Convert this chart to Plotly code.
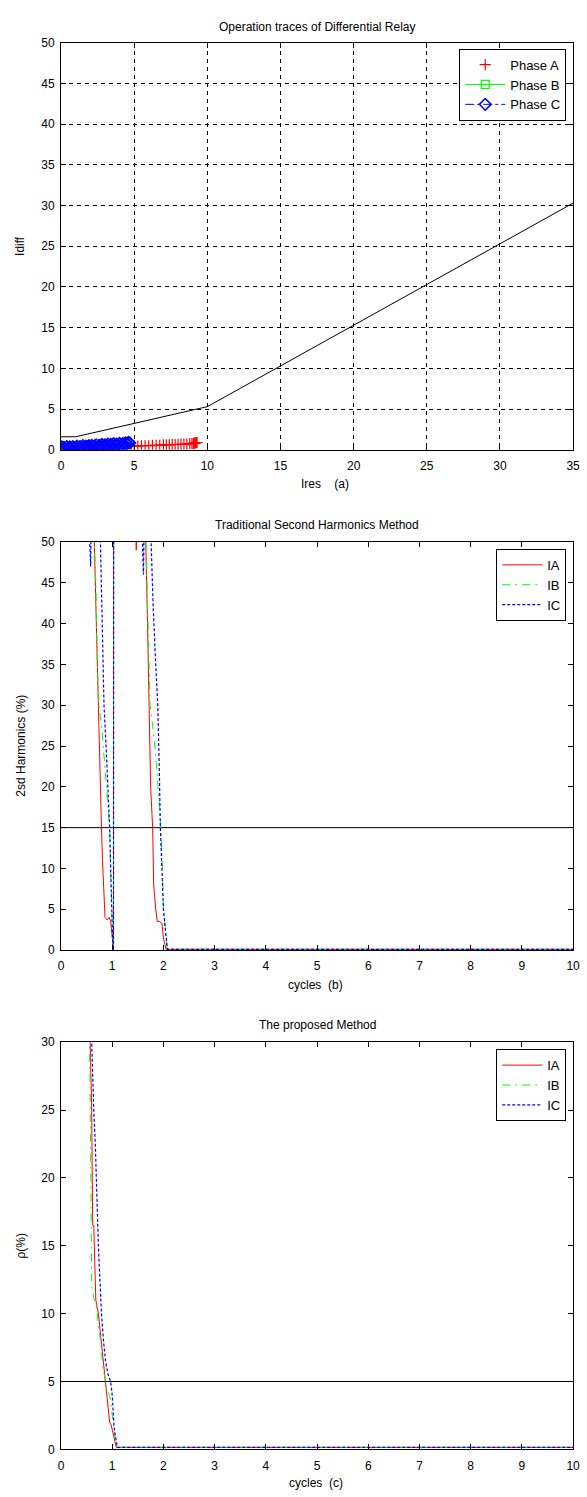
import plotly.graph_objects as go

W, H = 587, 1497

# ---------------- (a) Operation traces ----------------
char_ires = [0, 1, 10, 35]
char_idiff = [1.6, 1.6, 5.3, 30.3]

phase_a_ires = [0.05, 0.3, 0.6, 0.9, 1.2, 1.5, 1.8, 2.1, 2.4, 2.7,
                3.0, 3.3, 3.6, 3.9, 4.2, 4.5, 4.8, 5.0, 5.25, 5.5,
                5.75, 6.0, 6.25, 6.5, 6.75, 7.0, 7.2, 7.4, 7.6, 7.8,
                8.0, 8.2, 8.4, 8.6, 8.8, 8.95, 9.05, 9.1, 9.15, 9.2,
                9.25, 9.3]
phase_a_idiff = [0.0, 0.05, 0.1, 0.1, 0.15, 0.15, 0.2, 0.2, 0.25, 0.25,
                 0.3, 0.3, 0.35, 0.35, 0.4, 0.4, 0.45, 0.45, 0.45, 0.5,
                 0.5, 0.5, 0.55, 0.55, 0.55, 0.6, 0.6, 0.6, 0.65, 0.65,
                 0.65, 0.7, 0.7, 0.7, 0.75, 0.75, 0.8, 0.8, 0.85, 0.85,
                 0.9, 0.9]

phase_b_ires = [0.00, 0.10, 0.25, 0.40, 0.60, 0.80, 1.00, 1.20, 1.40, 1.60,
                1.80, 2.00, 2.20, 2.40, 2.60, 2.80, 3.00, 3.20, 3.40, 3.60,
                3.80, 4.00, 4.20, 4.40, 4.50]
phase_b_idiff = [0.10, 0.00, 0.30, 0.15, 0.35, 0.20, 0.40, 0.25, 0.45, 0.30,
                 0.50, 0.35, 0.45, 0.40, 0.55, 0.45, 0.60, 0.50, 0.65, 0.55,
                 0.70, 0.60, 0.75, 0.80, 0.85]

phase_c_ires = [0.00, 0.05, 0.10, 0.20, 0.30, 0.40, 0.50, 0.60, 0.70, 0.80,
                0.90, 1.00, 1.10, 1.20, 1.30, 1.40, 1.50, 1.60, 1.70, 1.80,
                1.90, 2.00, 2.10, 2.20, 2.30, 2.40, 2.50, 2.60, 2.70, 2.80,
                2.90, 3.00, 3.10, 3.20, 3.30, 3.40, 3.50, 3.60, 3.70, 3.80,
                3.90, 4.00, 4.10, 4.20, 4.30, 4.40, 4.50, 4.60, 4.70]
phase_c_idiff = [0.05, 0.35, 0.10, 0.30, 0.15, 0.40, 0.20, 0.35, 0.15, 0.40,
                 0.25, 0.30, 0.45, 0.20, 0.40, 0.30, 0.50, 0.25, 0.45, 0.35,
                 0.50, 0.30, 0.55, 0.40, 0.45, 0.60, 0.35, 0.55, 0.45, 0.65,
                 0.40, 0.60, 0.50, 0.70, 0.45, 0.65, 0.55, 0.75, 0.50, 0.70,
                 0.60, 0.80, 0.55, 0.75, 0.70, 0.85, 0.75, 0.90, 0.85]

# ---------------- (b) Traditional second harmonics ----------------
b_threshold = 15
b_ia_t = [0, 0.60, 0.65, 0.68, 0.71, 0.73, 0.76, 0.79, 0.81, 0.84,
          0.86, 0.90, 0.94, 0.97, 0.99, 1.01, 1.025, 1.03, 1.45, 1.47,
          1.49, 1.62, 1.66, 1.69, 1.72, 1.75, 1.79, 1.81, 1.85, 1.88,
          1.92, 1.97, 2.00, 2.05, 10]
b_ia_v = [90, 70, 50, 42, 35, 30, 20, 15, 11, 7,
          4, 3.7, 4.0, 3.5, 2.0, 0.3, 0.1, 95, 55, 49,
          55, 60, 50, 40, 30, 20, 15, 8, 5, 3.5,
          3.5, 3.3, 1.5, 0.1, 0.1]
b_ib_t = [0, 0.60, 0.65, 0.68, 0.71, 0.74, 0.80, 0.86, 0.92, 0.95,
          0.97, 0.99, 1.00, 1.015, 1.025, 1.03, 1.60, 1.66, 1.70, 1.74,
          1.80, 1.86, 1.92, 1.95, 1.98, 2.00, 2.03, 2.07, 10]
b_ib_v = [90, 65, 50, 45, 35, 30, 27, 22, 18, 15,
          10, 5, 3, 0.3, 0.1, 95, 60, 50, 40, 30,
          27, 23, 18, 15, 10, 5, 3, 0.1, 0.1]
b_ic_t = [0, 0.53, 0.56, 0.58, 0.60, 0.72, 0.77, 0.80, 0.84, 0.88,
          0.92, 0.95, 0.97, 0.99, 1.01, 1.025, 1.03, 1.54, 1.58, 1.61,
          1.64, 1.72, 1.76, 1.80, 1.85, 1.89, 1.92, 1.94, 1.97, 2.00,
          2.03, 2.08, 10]
b_ic_v = [90, 60, 50, 47, 60, 65, 50, 40, 30, 25,
          20, 15, 10, 5, 0.5, 0.1, 95, 60, 50, 46,
          60, 65, 50, 42, 35, 30, 22, 15, 10, 5,
          3, 0.1, 0.1]

# ---------------- (c) Proposed method ----------------
c_threshold = 5
c_ia_t = [0, 0.55, 0.57, 0.60, 0.61, 0.62, 0.64, 0.66, 0.68, 0.73,
          0.80, 0.86, 0.90, 0.95, 0.98, 1.03, 1.08, 10]
c_ia_v = [60, 40, 30, 25, 20, 16.5, 16.5, 13, 11, 10,
          7.5, 5, 4, 2, 1.8, 1, 0.15, 0.15]
c_ib_t = [0, 0.54, 0.56, 0.57, 0.58, 0.59, 0.60, 0.65, 0.69, 0.77,
          0.82, 0.87, 0.90, 0.95, 1.00, 1.04, 1.08, 10]
c_ib_v = [60, 40, 30, 25, 20, 15, 12, 11, 10.5, 8,
          6, 5, 4.3, 4, 2.5, 1, 0.15, 0.15]
c_ic_t = [0, 0.58, 0.60, 0.62, 0.64, 0.67, 0.70, 0.73, 0.76, 0.79,
          0.83, 0.87, 0.92, 0.97, 1.00, 1.04, 1.10, 10]
c_ic_v = [60, 35, 30, 27, 25, 22.5, 18, 15, 12.5, 10,
          8, 6.5, 5.5, 5, 4, 1.5, 0.15, 0.15]

FONT = "Liberation Sans, Arial, sans-serif"
RED, GREEN, BLUE = "#ff0000", "#00ff00", "#0000ff"

# pixel positions of the plot areas
X0, X1 = 59, 580
panels = {"a": (36, 447), "b": (540, 952), "c": (1045, 1456)}


def px2x(px):
    return px / W


def py2y(py):
    return 1 - py / H


def ydom(top, bottom):
    return [py2y(bottom), py2y(top)]


fig = go.Figure()

# (a)
fig.add_trace(go.Scatter(x=char_ires, y=char_idiff, mode="lines",
                         line=dict(color="black", width=1), showlegend=False,
                         xaxis="x", yaxis="y"))
fig.add_trace(go.Scatter(x=phase_a_ires, y=phase_a_idiff, mode="markers", name="Phase A",
                         marker=dict(symbol="cross-thin-open", size=8,
                                     line=dict(color=RED, width=1.2), color=RED),
                         xaxis="x", yaxis="y", legend="legend"))
fig.add_trace(go.Scatter(x=phase_b_ires, y=phase_b_idiff, mode="lines+markers", name="Phase B",
                         line=dict(color=GREEN, width=1),
                         marker=dict(symbol="square-open", size=8,
                                     line=dict(color=GREEN, width=1.2), color=GREEN),
                         xaxis="x", yaxis="y", legend="legend"))
fig.add_trace(go.Scatter(x=phase_c_ires, y=phase_c_idiff, mode="lines+markers", name="Phase C",
                         line=dict(color=BLUE, width=1, dash="dashdot"),
                         marker=dict(symbol="diamond-open", size=9,
                                     line=dict(color=BLUE, width=1.5), color=BLUE),
                         xaxis="x", yaxis="y", legend="legend"))

# (b)
fig.add_trace(go.Scatter(x=[0, 10], y=[b_threshold, b_threshold], mode="lines",
                         line=dict(color="black", width=1), showlegend=False,
                         xaxis="x2", yaxis="y2"))
fig.add_trace(go.Scatter(x=b_ia_t, y=b_ia_v, mode="lines", name="IA",
                         line=dict(color=RED, width=1), xaxis="x2", yaxis="y2", legend="legend2"))
fig.add_trace(go.Scatter(x=b_ib_t, y=b_ib_v, mode="lines", name="IB",
                         line=dict(color=GREEN, width=1, dash="8px,5px,2px,5px"),
                         xaxis="x2", yaxis="y2", legend="legend2"))
fig.add_trace(go.Scatter(x=b_ic_t, y=b_ic_v, mode="lines", name="IC",
                         line=dict(color=BLUE, width=1.2, dash="3px,2px"),
                         xaxis="x2", yaxis="y2", legend="legend2"))

# (c)
fig.add_trace(go.Scatter(x=[0, 10], y=[c_threshold, c_threshold], mode="lines",
                         line=dict(color="black", width=1), showlegend=False,
                         xaxis="x3", yaxis="y3"))
fig.add_trace(go.Scatter(x=c_ia_t, y=c_ia_v, mode="lines", name="IA",
                         line=dict(color=RED, width=1), xaxis="x3", yaxis="y3", legend="legend3"))
fig.add_trace(go.Scatter(x=c_ib_t, y=c_ib_v, mode="lines", name="IB",
                         line=dict(color=GREEN, width=1, dash="8px,5px,2px,5px"),
                         xaxis="x3", yaxis="y3", legend="legend3"))
fig.add_trace(go.Scatter(x=c_ic_t, y=c_ic_v, mode="lines", name="IC",
                         line=dict(color=BLUE, width=1.2, dash="3px,2px"),
                         xaxis="x3", yaxis="y3", legend="legend3"))

xdom = [px2x(X0), px2x(X1)]
axis_common = dict(showline=True, linecolor="black", linewidth=1, mirror="ticks",
                   ticks="inside", ticklen=5, tickcolor="black", zeroline=False,
                   tickfont=dict(family=FONT, size=12, color="black"))
xa = dict(ticklabelstandoff=5, **axis_common)
ya = dict(ticklabelstandoff=3, **axis_common)

grid_a = dict(showgrid=True, gridcolor="black", gridwidth=1, griddash="4px,4px")

fig.update_layout(
    width=W, height=H, margin=dict(l=0, r=0, t=0, b=0),
    paper_bgcolor="white", plot_bgcolor="white",
    font=dict(family=FONT, size=12, color="black"),
    xaxis=dict(domain=xdom, range=[0, 35], tickvals=list(range(0, 36, 5)),
               anchor="y", **grid_a, **xa),
    yaxis=dict(domain=ydom(*panels["a"]), range=[0, 50], tickvals=list(range(0, 51, 5)),
               anchor="x", **grid_a, **ya),
    xaxis2=dict(domain=xdom, range=[0, 10], tickvals=list(range(0, 11)),
                anchor="y2", showgrid=False, **xa),
    yaxis2=dict(domain=ydom(*panels["b"]), range=[0, 50], tickvals=list(range(0, 51, 5)),
                anchor="x2", showgrid=False, **ya),
    xaxis3=dict(domain=xdom, range=[0, 10], tickvals=list(range(0, 11)),
                anchor="y3", showgrid=False, **xa),
    yaxis3=dict(domain=ydom(*panels["c"]), range=[0, 30], tickvals=list(range(0, 31, 5)),
                anchor="x3", showgrid=False, **ya),
)

legend_common = dict(bgcolor="white", bordercolor="black", borderwidth=1,
                     xanchor="right", yanchor="top", font=dict(family=FONT, size=13),
                     tracegroupgap=0, itemwidth=40)
fig.update_layout(
    legend=dict(x=px2x(573), y=py2y(42), **legend_common),
    legend2=dict(x=px2x(573), y=py2y(547), **legend_common),
    legend3=dict(x=px2x(573), y=py2y(1052), **legend_common),
)

NB = "\u00a0"
cx = (X0 + X1) / 2
annotations = [
    ("Operation traces of Differential Relay", cx, 20, 0),
    ("Ires" + NB * 4 + "(a)", cx + 8, 482, 0),
    ("Idiff", 18, (36 + 447) / 2, -90),
    ("Traditional Second Harmonics Method", cx, 523, 0),
    ("cycles" + NB * 2 + "(b)", 318, 987, 0),
    ("2sd Harmonics (%)", 18, (540 + 952) / 2, -90),
    ("The proposed Method", cx, 1028, 0),
    ("cycles" + NB * 2 + "(c)", 318, 1490, 0),
    ("\u03c1(%)", 18, (1045 + 1456) / 2, -90),
]
for text, px, py, ang in annotations:
    fig.add_annotation(text=text, xref="paper", yref="paper", x=px2x(px), y=py2y(py),
                       xanchor="center", yanchor="middle", showarrow=False, textangle=ang,
                       font=dict(family=FONT, size=12, color="black"))

fig.write_html("out.html", config={"displayModeBar": False},
               post_script="document.body.style.margin='0';document.body.style.overflow='hidden';")
